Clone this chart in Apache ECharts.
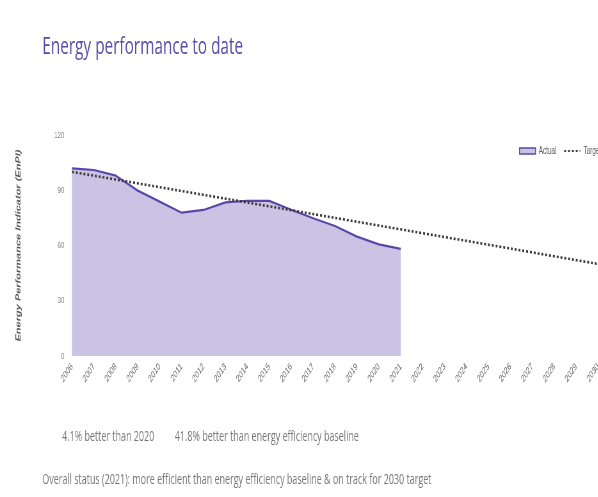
<!DOCTYPE html>
<html>
<head>
<meta charset="utf-8">
<script src="https://cdn.jsdelivr.net/npm/echarts@6/dist/echarts.min.js"></script>
<style>
  html, body { margin: 0; padding: 0; background: #fff; }
  #wrap { width: 598px; height: 497px; overflow: hidden; position: relative; }
  /* the source picture is squeezed sideways, so draw wide and scale down */
  #main { width: 960px; height: 497px; transform: scaleX(0.64); transform-origin: 0 0; }
</style>
</head>
<body>
<div id="wrap"><div id="main"></div></div>
<script>
var years = ['2006', '2007', '2008', '2009', '2010', '2011', '2012', '2013', '2014', '2015',
  '2016', '2017', '2018', '2019', '2020', '2021', '2022', '2023', '2024', '2025',
  '2026', '2027', '2028', '2029', '2030']
var actual = [101.9, 101.0, 97.9, 89.8, 83.8, 77.8, 79.3, 83.4, 84.3, 84.2,
  79.4, 74.8, 70.6, 64.8, 60.6, 58.2]
// target is a straight line from the 2006 baseline to the 2030 goal
var target = [100, null, null, null, null, null, null, null, null, null,
  null, null, null, null, null, null, null, null, null, null,
  null, null, null, null, 50]
var yTicks = { min: 0, max: 120, interval: 30 }

var titleText = 'Energy performance to date'
var noteLeft = '4.1% better than 2020'
var noteRight = '41.8% better than energy efficiency baseline'
var statusText = 'Overall status (2021): more efficient than energy efficiency baseline & on track for 2030 target'

var chart = echarts.init(document.getElementById('main'))

chart.setOption({
  animation: false,
  graphic: [
    {
      type: 'text', left: 66, top: 35,
      style: { text: titleText, font: '24px "Open Sans"', fill: '#5a4ca6' }
    },
    {
      type: 'text', left: 97, top: 430,
      style: { text: noteLeft, font: '14px "Open Sans"', fill: '#777' }
    },
    {
      type: 'text', left: 273, top: 430,
      style: { text: noteRight, font: '14px "Open Sans"', fill: '#777' }
    },
    {
      type: 'text', left: 66, top: 473,
      style: { text: statusText, font: '14px "Open Sans"', fill: '#777' }
    }
  ],
  legend: {
    left: 806,
    top: 141,
    itemGap: 11,
    itemWidth: 25,
    itemHeight: 6,
    textStyle: { fontFamily: 'Arial, "Liberation Sans"', fontSize: 10, color: '#555' },
    data: [
      { name: 'Actual', icon: 'rect', itemStyle: { color: '#cbc3e4', borderColor: '#5847a6', borderWidth: 1.5 } },
      { name: 'Target', itemStyle: { opacity: 0 } }
    ]
  },
  grid: {
    left: 112.5,
    right: 25.6,
    top: 135,
    bottom: 141
  },
  xAxis: {
    type: 'category',
    data: years,
    boundaryGap: false,
    axisLine: { show: false },
    axisTick: { show: false },
    axisLabel: {
      rotate: 45,
      margin: 9,
      interval: 0,
      fontFamily: 'Arial, "Liberation Sans"',
      fontSize: 10,
      color: '#666'
    }
  },
  yAxis: {
    type: 'value',
    min: yTicks.min,
    max: yTicks.max,
    interval: yTicks.interval,
    name: 'Energy Performance Indicator (EnPI)',
    nameLocation: 'middle',
    nameGap: 78,
    nameTextStyle: {
      fontFamily: 'Arial, "Liberation Sans"',
      fontSize: 11,
      fontWeight: 'bold',
      fontStyle: 'italic',
      color: '#555'
    },
    axisLine: { show: false },
    axisTick: { show: false },
    splitLine: { show: false },
    axisLabel: {
      margin: 12,
      fontFamily: 'Arial, "Liberation Sans"',
      fontSize: 9.5,
      color: '#888'
    }
  },
  series: [
    {
      name: 'Actual',
      type: 'line',
      data: actual,
      symbol: 'none',
      lineStyle: { color: '#5847a6', width: 2.2 },
      itemStyle: { color: '#5847a6' },
      areaStyle: { color: '#cbc3e4', opacity: 1 },
      z: 2
    },
    {
      name: 'Target',
      type: 'line',
      data: target,
      connectNulls: true,
      symbol: 'none',
      lineStyle: { color: '#3a3a3a', width: 2.6, type: [3, 3] },
      itemStyle: { color: '#3a3a3a' },
      z: 3
    }
  ]
})
</script>
</body>
</html>
